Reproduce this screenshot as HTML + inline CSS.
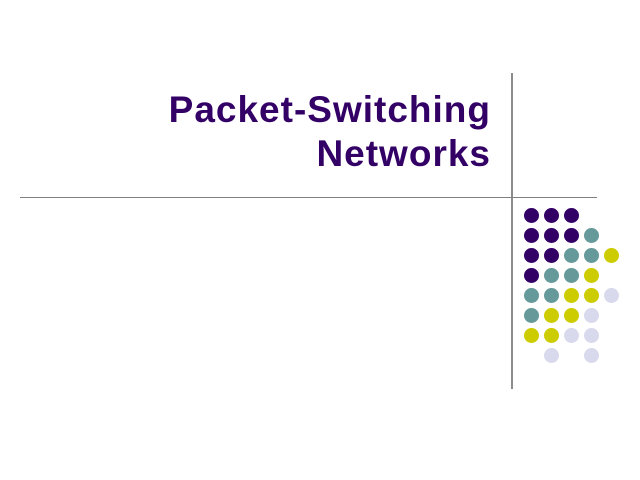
<!DOCTYPE html>
<html>
<head>
<meta charset="utf-8">
<style>
  html, body { margin:0; padding:0; }
  body { width:640px; height:480px; background:#ffffff; position:relative; overflow:hidden; }
  .title {
    position:absolute; right:149px; top:88px;
    font-family:"Liberation Sans", Arial, sans-serif;
    font-weight:bold; font-size:37px; line-height:44px; letter-spacing:1px;
    color:#330066; text-align:right; white-space:nowrap;
  }
  .vline { position:absolute; left:511px; top:73px; width:2px; height:316px; background:#8c8c8c; }
  .hline { position:absolute; left:20px; top:197px; width:577px; height:1px; background:#808080; }
  .d { position:absolute; width:15px; height:15px; border-radius:50%; }
  .p { background:#330066; }
  .t { background:#669999; }
  .y { background:#cccc00; }
  .l { background:#d9d9ee; }
</style>
</head>
<body>
  <div class="title">Packet-Switching<br>Networks</div>
  <div class="vline"></div>
  <div class="hline"></div>

  <!-- row 1 -->
  <div class="d p" style="left:523.5px;top:208px"></div>
  <div class="d p" style="left:543.5px;top:208px"></div>
  <div class="d p" style="left:563.5px;top:208px"></div>
  <!-- row 2 -->
  <div class="d p" style="left:523.5px;top:228px"></div>
  <div class="d p" style="left:543.5px;top:228px"></div>
  <div class="d p" style="left:563.5px;top:228px"></div>
  <div class="d t" style="left:583.5px;top:228px"></div>
  <!-- row 3 -->
  <div class="d p" style="left:523.5px;top:248px"></div>
  <div class="d p" style="left:543.5px;top:248px"></div>
  <div class="d t" style="left:563.5px;top:248px"></div>
  <div class="d t" style="left:583.5px;top:248px"></div>
  <div class="d y" style="left:603.5px;top:248px"></div>
  <!-- row 4 -->
  <div class="d p" style="left:523.5px;top:268px"></div>
  <div class="d t" style="left:543.5px;top:268px"></div>
  <div class="d t" style="left:563.5px;top:268px"></div>
  <div class="d y" style="left:583.5px;top:268px"></div>
  <!-- row 5 -->
  <div class="d t" style="left:523.5px;top:288px"></div>
  <div class="d t" style="left:543.5px;top:288px"></div>
  <div class="d y" style="left:563.5px;top:288px"></div>
  <div class="d y" style="left:583.5px;top:288px"></div>
  <div class="d l" style="left:603.5px;top:288px"></div>
  <!-- row 6 -->
  <div class="d t" style="left:523.5px;top:308px"></div>
  <div class="d y" style="left:543.5px;top:308px"></div>
  <div class="d y" style="left:563.5px;top:308px"></div>
  <div class="d l" style="left:583.5px;top:308px"></div>
  <!-- row 7 -->
  <div class="d y" style="left:523.5px;top:328px"></div>
  <div class="d y" style="left:543.5px;top:328px"></div>
  <div class="d l" style="left:563.5px;top:328px"></div>
  <div class="d l" style="left:583.5px;top:328px"></div>
  <!-- row 8 -->
  <div class="d l" style="left:543.5px;top:348px"></div>
  <div class="d l" style="left:583.5px;top:348px"></div>
</body>
</html>
